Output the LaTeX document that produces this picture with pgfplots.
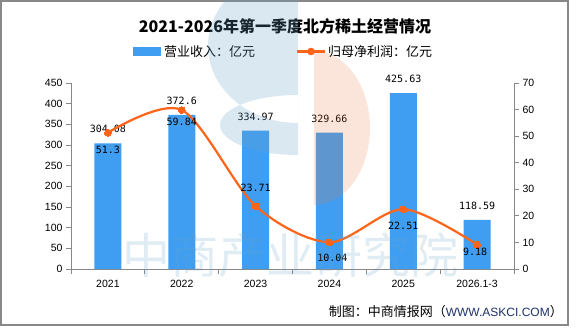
\documentclass[border=0pt]{standalone}
\usepackage{pgfplots}
\pgfplotsset{compat=1.18}
\usepackage{fontspec}
\setmainfont{Liberation Sans}
\newfontfamily\cjk{Noto Sans CJK SC}
\newfontfamily\mono{DejaVu Sans Mono}
\definecolor{barblue}{RGB}{64,158,242}
\definecolor{lineor}{RGB}{255,100,25}
\definecolor{axgray}{RGB}{136,136,136}
\definecolor{wmblue}{RGB}{100,160,200}
\definecolor{wmpink}{RGB}{235,114,51}
\definecolor{urlblue}{RGB}{30,50,110}
\pgfplotstableread{
x y lab
0 304.08 304.08
1 372.6 372.6
2 334.97 334.97
3 329.66 329.66
4 425.63 425.63
5 118.59 118.59
}\revenue
\pgfplotstableread{
x y dx dy lab
0 51.3 0 -17 51.3
1 59.84 0 -12 59.84
2 23.71 0 18 23.71
3 10.04 3 -16 10.04
4 22.51 0 -17 22.51
5 9.18 -2 -7 9.18
}\profit
\begin{document}
\begin{tikzpicture}[x=1pt,y=1pt]
\path[use as bounding box] (0,0) rectangle (581,327);
\fill[white] (0,0) rectangle (581,327);
\draw[axgray, line width=1.5pt] (1,326) rectangle (568,2);
% title
\node[font=\cjk\bfseries\fontsize{16}{16}\selectfont] at (285,301) {2021-2026年第一季度北方稀土经营情况};
% legend
\fill[barblue] (133,271) rectangle (161,280);
\node[anchor=west, inner sep=0pt, font=\cjk\fontsize{13}{13}\selectfont] at (164,275.5) {营业收入：亿元};
\draw[lineor, line width=2.5pt] (297,275.5) -- (325,275.5);
\fill[lineor] (311,275.5) circle (3.8);
\node[anchor=west, inner sep=0pt, font=\cjk\fontsize{13}{13}\selectfont] at (328,275.5) {归母净利润：亿元};

\begin{axis}[
  at={(71pt,58pt)}, anchor=south west,
  scale only axis, width=443pt, height=186pt,
  xmin=-0.5, xmax=5.5, ymin=0, ymax=450,
  axis x line*=bottom, axis y line*=left,
  axis line style={axgray, line width=0.9pt},
  xtick={-0.5,0.5,...,5.5}, x tick label as interval,
  xticklabels={2021,2022,2023,2024,2025,2026.1-3},
  xticklabel style={yshift=-3pt},
  ytick={0,50,...,450},
  tick align=outside, major tick length=5pt,
  tick style={axgray, line width=0.9pt},
  tick label style={font=\fontsize{10.5}{12}\selectfont, text=black},
  /pgf/number format/assume math mode=true,
  clip=false,
  ybar, bar width=27pt,
]
\addplot[fill=barblue, draw=none,
  nodes near coords, point meta=explicit symbolic,
  nodes near coords style={font=\mono\fontsize{10}{10}\selectfont, anchor=center, yshift=14pt, text=black}]
  table[x=x, y=y, meta=lab] {\revenue};
\end{axis}

\begin{axis}[
  at={(71pt,58pt)}, anchor=south west,
  scale only axis, width=443pt, height=186pt,
  xmin=-0.5, xmax=5.5, ymin=0, ymax=70,
  axis y line*=right, axis x line=none,
  axis line style={axgray, line width=0.9pt},
  ytick={0,10,...,70},
  tick align=outside, major tick length=5pt,
  tick style={axgray, line width=0.9pt},
  tick label style={font=\fontsize{10.5}{12}\selectfont, text=black},
  /pgf/number format/assume math mode=true,
  clip=false,
]
\addplot[lineor, line width=2.2pt, smooth, tension=0.5,
  mark=*, mark size=3.5pt, mark options={fill=lineor, draw=lineor, line width=0pt},
  nodes near coords, point meta=explicit symbolic,
  visualization depends on={\thisrow{dx}\as\dx},
  visualization depends on={\thisrow{dy}\as\dy},
  nodes near coords style={font=\mono\fontsize{10}{10}\selectfont, anchor=center, xshift=\dx pt, yshift=\dy pt, text=black}]
  table[x=x, y=y, meta=lab] {\profit};
\end{axis}

% watermark
\begin{scope}[fill opacity=0.24]
\fill[wmblue, even odd rule] (298,204) arc[start angle=270, end angle=90, x radius=90, y radius=77] -- cycle
  (298,232) arc[start angle=90, end angle=270, x radius=78, y radius=30] -- cycle;
\end{scope}
\begin{scope}[fill opacity=0.18]
\fill[wmpink] (314,276) arc[start angle=90, end angle=-90, x radius=56, y radius=77] -- cycle;
\end{scope}
\node[text=wmblue, text opacity=0.2, font=\cjk\fontsize{48}{48}\selectfont] at (290,72) {中商产业研究院};

% footer
\node[anchor=east, inner sep=0pt] at (563,15) {{\cjk\fontsize{13}{13}\selectfont 制图：中商情报网（}{\fontsize{12}{12}\selectfont\color{urlblue}WWW.ASKCI.COM}{\cjk\fontsize{13}{13}\selectfont ）}};
\end{tikzpicture}
\end{document}
